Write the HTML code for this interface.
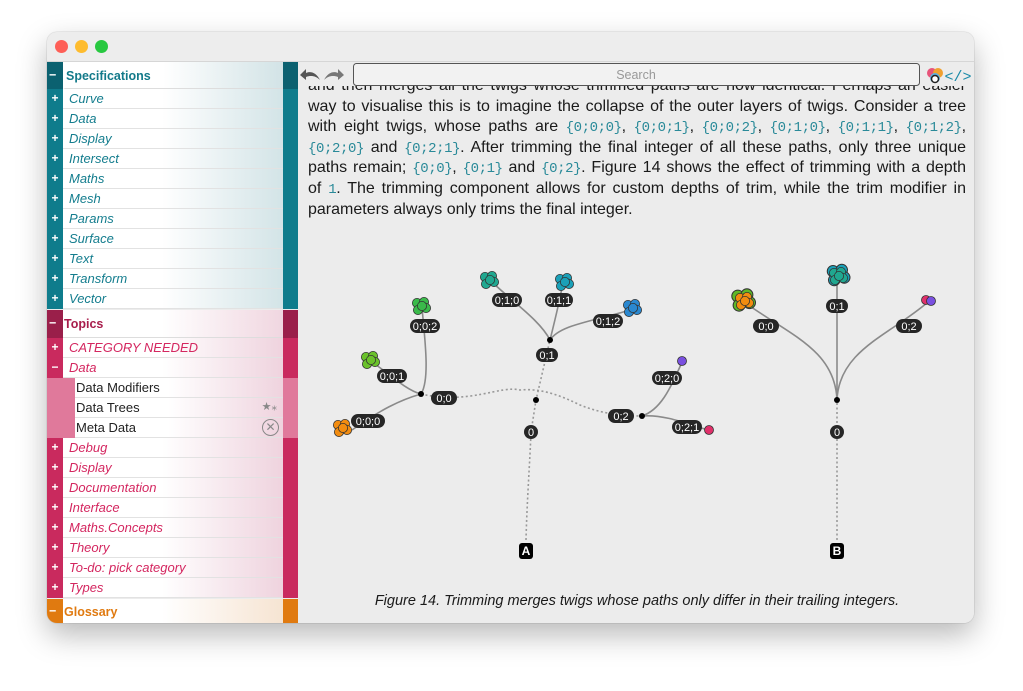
<!DOCTYPE html>
<html><head><meta charset="utf-8"><style>
*{margin:0;padding:0;box-sizing:border-box}
body{width:1023px;height:691px;background:#fff;position:relative;overflow:hidden;font-family:"Liberation Sans",sans-serif}
.win{position:absolute;left:47px;top:32px;width:927px;height:591px;border-radius:10px;overflow:hidden;background:#ececec;box-shadow:0 12px 30px rgba(0,0,0,.28),0 0 1px rgba(0,0,0,.4)}
.title{position:absolute;left:0;top:0;width:927px;height:30px;background:#ededed;border-bottom:1px solid #d6d6d6}
.dot{position:absolute;top:8px;width:13px;height:13px;border-radius:50%}
.sb{position:absolute;left:0;top:30px;width:251px;height:561px}
.r{position:absolute;left:0;width:251px;height:20px;font-size:13px;font-style:italic;line-height:19px}
.r .ls{position:absolute;left:0;top:0;width:16px;height:20px;color:#fff;font-style:normal;font-weight:bold;font-size:12px;text-align:center}
.r .bd{position:absolute;left:16px;top:0;width:220px;height:20px;border-bottom:1px solid #e2e2e2;padding-left:6px}
.r .rs{position:absolute;left:236px;top:0;width:15px;height:20px}
.t .bd{background:linear-gradient(90deg,#fff 45%,#d3e4e7);color:#147d8e}
.t .ls,.t .rs{background:#0f7c8c}
.p .bd{background:linear-gradient(90deg,#fff 45%,#efd3de);color:#d42760}
.p .ls,.p .rs{background:#c92a5e}
.sub .bd{font-style:normal;color:#222;left:28px;width:208px;padding-left:1px}
.sub .ls{width:28px;background:#e0799b}
.sub .rs{background:#e0799b}
.h{position:absolute;left:0;width:251px;font-weight:bold;font-size:12.5px}
.content{position:absolute;left:251px;top:30px;width:676px;height:561px;background:#ececec}
.txt{position:absolute;left:10px;top:14px;width:658px;font-size:16px;line-height:20.6px;color:#1a1a1a}
.txt div{text-align:justify;text-align-last:justify;white-space:nowrap;height:20.6px}
.txt div.l{text-align-last:left}
.c{font-family:"Liberation Mono",monospace;color:#2a8a99;font-size:14px;letter-spacing:-0.4px}
.tb{position:absolute;left:0;top:0;width:676px;height:24px;background:#ececec}
</style></head><body>
<div class="win">
 <div class="title">
  <div class="dot" style="left:8px;background:#fe5f57"></div>
  <div class="dot" style="left:28px;background:#febc2e"></div>
  <div class="dot" style="left:48px;background:#28c840"></div>
 </div>
 <div class="content">
  <div class="txt">
   <div style="white-space:normal">and then merges all the twigs whose trimmed paths are now identical. Perhaps an easier</div>
   <div style="white-space:normal">way to visualise this is to imagine the collapse of the outer layers of twigs. Consider a tree</div>
   <div style="white-space:normal">with eight twigs, whose paths are <span class="c">{0;0;0}</span>, <span class="c">{0;0;1}</span>, <span class="c">{0;0;2}</span>, <span class="c">{0;1;0}</span>, <span class="c">{0;1;1}</span>, <span class="c">{0;1;2}</span>,</div>
   <div style="white-space:normal"><span class="c">{0;2;0}</span> and <span class="c">{0;2;1}</span>. After trimming the final integer of all these paths, only three unique</div>
   <div style="white-space:normal">paths remain; <span class="c">{0;0}</span>, <span class="c">{0;1}</span> and <span class="c">{0;2}</span>. Figure 14 shows the effect of trimming with a depth</div>
   <div style="white-space:normal">of <span class="c">1</span>. The trimming component allows for custom depths of trim, while the trim modifier in</div>
   <div class="l">parameters always only trims the final integer.</div>
  </div>
  <div class="tb">
   <svg width="676" height="26" style="position:absolute;left:0;top:0">
    <path d="M22 18 C18 10 12 9 8 11 L8 7 L2 13 L8 18 L8 15 C13 13 18 14 22 18Z" fill="#555"/>
    <path d="M26 18 C30 10 36 9 40 11 L40 7 L46 13 L40 18 L40 15 C35 13 30 14 26 18Z" fill="#777"/>
    <rect x="55.5" y="1.5" width="566" height="22" rx="3" fill="#f2f2f2" stroke="#555"/>
    <text x="338" y="17" font-size="12.5" fill="#999" text-anchor="middle" font-family="Liberation Sans">Search</text>
    <circle cx="634" cy="11" r="5" fill="#e8547a"/><circle cx="640" cy="11" r="5" fill="#f0a030"/><circle cx="637" cy="16" r="5" fill="#5ab0e0"/><circle cx="637" cy="17" r="3.5" fill="#fff" stroke="#222" stroke-width="1.5"/>
    <text x="660" y="19" font-size="15" fill="#1a8aa8" text-anchor="middle" font-family="Liberation Mono">&lt;/&gt;</text>
   </svg>
  </div>
 </div>
 <div class="sb">
  <div class="h" style="top:0;height:27px;background:#0b6170"><div style="position:absolute;left:16px;top:0;width:220px;height:27px;background:linear-gradient(90deg,#fff 45%,#d2e3e6);color:#137a8a;padding:7px 0 0 1px;border-left:2px solid #fff;border-bottom:1px solid #ddd">Specifications</div><div style="position:absolute;left:2px;top:6px;color:#fff">−</div><div style="position:absolute;left:236px;width:15px;height:27px;background:#0b6170"></div></div>
  <div class="r t" style="top:27px"><div class="ls">+</div><div class="bd">Curve</div><div class="rs"></div></div>
  <div class="r t" style="top:47px"><div class="ls">+</div><div class="bd">Data</div><div class="rs"></div></div>
  <div class="r t" style="top:67px"><div class="ls">+</div><div class="bd">Display</div><div class="rs"></div></div>
  <div class="r t" style="top:87px"><div class="ls">+</div><div class="bd">Intersect</div><div class="rs"></div></div>
  <div class="r t" style="top:107px"><div class="ls">+</div><div class="bd">Maths</div><div class="rs"></div></div>
  <div class="r t" style="top:127px"><div class="ls">+</div><div class="bd">Mesh</div><div class="rs"></div></div>
  <div class="r t" style="top:147px"><div class="ls">+</div><div class="bd">Params</div><div class="rs"></div></div>
  <div class="r t" style="top:167px"><div class="ls">+</div><div class="bd">Surface</div><div class="rs"></div></div>
  <div class="r t" style="top:187px"><div class="ls">+</div><div class="bd">Text</div><div class="rs"></div></div>
  <div class="r t" style="top:207px"><div class="ls">+</div><div class="bd">Transform</div><div class="rs"></div></div>
  <div class="r t" style="top:227px"><div class="ls">+</div><div class="bd">Vector</div><div class="rs"></div></div>
  <div class="h" style="top:248px;height:28px;background:#9a1f4a"><div style="position:absolute;left:16px;top:0;width:220px;height:28px;background:linear-gradient(90deg,#fff 45%,#f0d6e0);color:#a81d4c;padding:7px 0 0 1px;border-bottom:1px solid #ddd">Topics</div><div style="position:absolute;left:2px;top:6px;color:#fff">−</div><div style="position:absolute;left:236px;width:15px;height:28px;background:#9a1f4a"></div></div>
  <div class="r p" style="top:276px"><div class="ls">+</div><div class="bd">CATEGORY NEEDED</div><div class="rs"></div></div>
  <div class="r p" style="top:296px"><div class="ls">−</div><div class="bd">Data</div><div class="rs"></div></div>
  <div class="r p sub" style="top:316px"><div class="ls"></div><div class="bd">Data Modifiers</div><div class="rs"></div></div>
  <div class="r p sub" style="top:336px"><div class="ls"></div><div class="bd">Data Trees<span style="position:absolute;right:6px;color:#888;font-size:11px">★⁎</span></div><div class="rs"></div></div>
  <div class="r p sub" style="top:356px"><div class="ls"></div><div class="bd">Meta Data<span style="position:absolute;right:4px;top:1px;width:17px;height:17px;border:1.5px solid #888;border-radius:50%;color:#888;font-size:12px;text-align:center;line-height:14px">✕</span></div><div class="rs"></div></div>
  <div class="r p" style="top:376px"><div class="ls">+</div><div class="bd">Debug</div><div class="rs"></div></div>
  <div class="r p" style="top:396px"><div class="ls">+</div><div class="bd">Display</div><div class="rs"></div></div>
  <div class="r p" style="top:416px"><div class="ls">+</div><div class="bd">Documentation</div><div class="rs"></div></div>
  <div class="r p" style="top:436px"><div class="ls">+</div><div class="bd">Interface</div><div class="rs"></div></div>
  <div class="r p" style="top:456px"><div class="ls">+</div><div class="bd">Maths.Concepts</div><div class="rs"></div></div>
  <div class="r p" style="top:476px"><div class="ls">+</div><div class="bd">Theory</div><div class="rs"></div></div>
  <div class="r p" style="top:496px"><div class="ls">+</div><div class="bd">To-do: pick category</div><div class="rs"></div></div>
  <div class="r p" style="top:516px"><div class="ls">+</div><div class="bd">Types</div><div class="rs"></div></div>
  <div class="h" style="top:537px;height:24px;background:#e07a10"><div style="position:absolute;left:16px;top:0;width:220px;height:24px;background:linear-gradient(90deg,#fff 45%,#f6e4d2);color:#e07a10;padding:6px 0 0 1px">Glossary</div><div style="position:absolute;left:2px;top:5px;color:#fff">−</div></div>
 </div>
</div>
<svg width="1023" height="691" style="position:absolute;left:0;top:0" font-family="Liberation Sans">
 <defs>
  <g id="cl"><circle cx="-4" cy="-3" r="4.6"/><circle cx="3" cy="-4" r="4.6"/><circle cx="5" cy="2" r="4.6"/><circle cx="-3" cy="4" r="4.6"/><circle cx="1" cy="0" r="4.6"/></g>
 </defs>
 <g fill="none" stroke="#8a8a8a" stroke-width="1.6">
  <path d="M421 394 C400 400 380 410 352 430"/>
  <path d="M421 394 C405 390 385 370 369 360"/>
  <path d="M421 394 C430 380 425 340 422 308"/>
  <path d="M550 340 C540 320 510 300 490 280"/>
  <path d="M550 340 C555 320 560 300 563 282"/>
  <path d="M550 340 C560 325 590 322 630 310"/>
  <path d="M642 416 C660 410 670 390 682 362"/>
  <path d="M642 416 C665 414 690 425 708 430"/>
  <path d="M837 400 C835 350 790 335 744 302"/>
  <path d="M837 400 L837 276"/>
  <path d="M837 400 C839 350 890 335 928 302"/>
 </g>
 <g fill="none" stroke="#999" stroke-width="1.6" stroke-dasharray="2 2.5">
  <path d="M526 540 C527 500 530 460 531 432 L536 400 L550 340"/>
  <path d="M421 394 C470 405 500 385 520 390 C540 388 560 395 580 405 C600 413 620 416 642 416"/>
  <path d="M837 540 L837 400"/>
 </g>
 <g fill="#000"><circle cx="421" cy="394" r="3"/><circle cx="536" cy="400" r="3"/><circle cx="550" cy="340" r="3"/><circle cx="642" cy="416" r="3"/><circle cx="837" cy="400" r="3"/></g>
 <g stroke="#333" stroke-width=".8">
  <use href="#cl" x="342" y="428" fill="#f28c10"/>
  <use href="#cl" x="370" y="360" fill="#6ac22a"/>
  <use href="#cl" x="421" y="306" fill="#3aba4a"/>
  <use href="#cl" x="489" y="280" fill="#20a890"/>
  <use href="#cl" x="564" y="282" fill="#1aa0b8"/>
  <use href="#cl" x="632" y="308" fill="#2a88d0"/>
  <circle cx="682" cy="361" r="4.5" fill="#7a50e0"/>
  <circle cx="709" cy="430" r="4.5" fill="#e0306a"/>
  <use href="#cl" x="743" y="300" fill="#60b828" transform="translate(743 300) scale(1.3) translate(-743 -300)"/>
  <use href="#cl" x="744" y="301" fill="#f28c10"/>
  <use href="#cl" x="838" y="275" fill="#1aa0b8" transform="translate(838 275) scale(1.25) translate(-838 -275)"/>
  <use href="#cl" x="838" y="276" fill="#20a890"/>
  <circle cx="926" cy="300" r="4.5" fill="#e0306a"/>
  <circle cx="931" cy="301" r="4.5" fill="#7a50e0"/>
 </g>
 <g font-size="11" fill="#fff" text-anchor="middle">
  <g fill="#262626"><rect x="351" y="414" width="34" height="14" rx="7"/><rect x="377" y="369" width="30" height="14" rx="7"/><rect x="410" y="319" width="30" height="14" rx="7"/><rect x="431" y="391" width="26" height="14" rx="7"/><rect x="492" y="293" width="30" height="14" rx="7"/><rect x="545" y="293" width="28" height="14" rx="7"/><rect x="593" y="314" width="30" height="14" rx="7"/><rect x="536" y="348" width="22" height="14" rx="7"/><rect x="524" y="425" width="14" height="14" rx="7"/><rect x="608" y="409" width="26" height="14" rx="7"/><rect x="652" y="371" width="30" height="14" rx="7"/><rect x="672" y="420" width="30" height="14" rx="7"/><rect x="753" y="319" width="26" height="14" rx="7"/><rect x="826" y="299" width="22" height="14" rx="7"/><rect x="896" y="319" width="26" height="14" rx="7"/><rect x="830" y="425" width="14" height="14" rx="7"/>
   <rect x="519" y="543" width="14" height="16" rx="3" fill="#000"/><rect x="830" y="543" width="14" height="16" rx="3" fill="#000"/></g>
  <text x="368" y="425">0;0;0</text><text x="392" y="380">0;0;1</text><text x="425" y="330">0;0;2</text><text x="444" y="402">0;0</text><text x="507" y="304">0;1;0</text><text x="559" y="304">0;1;1</text><text x="608" y="325">0;1;2</text><text x="547" y="359">0;1</text><text x="531" y="436">0</text><text x="621" y="420">0;2</text><text x="667" y="382">0;2;0</text><text x="687" y="431">0;2;1</text><text x="766" y="330">0;0</text><text x="837" y="310">0;1</text><text x="909" y="330">0;2</text><text x="837" y="436">0</text>
  <text x="526" y="555" font-weight="bold" font-size="12">A</text><text x="837" y="555" font-weight="bold" font-size="12">B</text>
 </g>
 <text x="637" y="605" font-size="14.5" font-style="italic" fill="#1a1a1a" text-anchor="middle">Figure 14. Trimming merges twigs whose paths only differ in their trailing integers.</text>
</svg>
</body></html>
